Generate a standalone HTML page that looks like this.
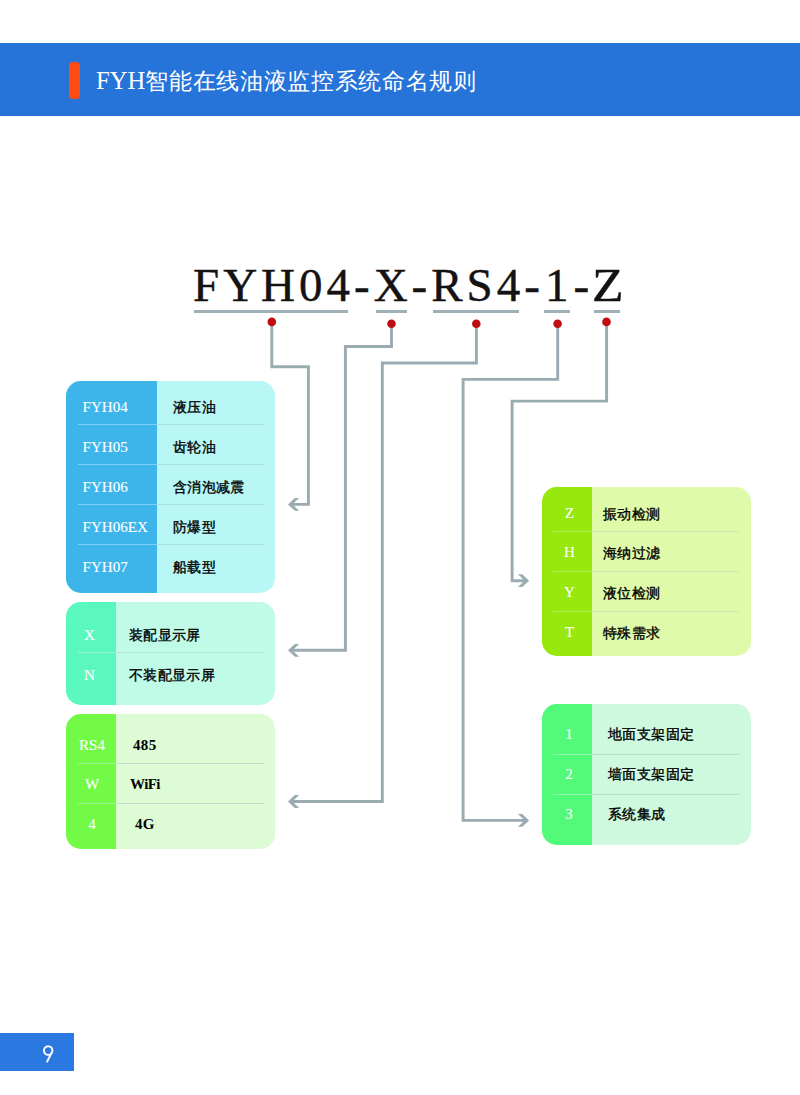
<!DOCTYPE html>
<html><head><meta charset="utf-8">
<style>
html,body{margin:0;padding:0;background:#fff;}
body{width:800px;height:1095px;position:relative;overflow:hidden;font-family:"Liberation Sans",sans-serif;}
.abs{position:absolute;}
#band{left:0;top:43px;width:800px;height:72.5px;background:#2673d9;}
#obar{left:69px;top:62px;width:11px;height:37px;border-radius:4px;background:#fd4b12;}
#title{left:96px;top:66px;color:#fff;font-size:23px;letter-spacing:0.68px;line-height:30px;white-space:nowrap;}
#title .s{font-family:"Liberation Serif",serif;font-size:24.6px;letter-spacing:0;}
#code{left:193px;top:255px;font-family:"Liberation Serif",serif;font-size:47px;line-height:60px;color:#141213;-webkit-text-stroke:0.45px #141213;letter-spacing:4px;white-space:nowrap;}
.ul{background:#9fb0b6;height:3px;top:310px;}
.box{position:absolute;border-radius:15px;overflow:hidden;}
.box .lc{position:absolute;left:0;top:0;bottom:0;}
.row{position:absolute;left:0;right:0;height:40px;}
.lab{position:absolute;top:0;height:40px;line-height:40px;color:#fff;font-family:"Liberation Serif",serif;font-size:15px;text-align:center;white-space:nowrap;-webkit-text-stroke:0.12px #fff;}
.lab.b1{left:16.5px;text-align:left;font-size:15.1px;}
.txt{position:absolute;top:0;height:40px;line-height:40px;color:#000;font-size:14px;-webkit-text-stroke:0.35px #000;white-space:nowrap;letter-spacing:0.35px;}
.txt.en{font-family:"Liberation Serif",serif;font-weight:700;font-size:15px;-webkit-text-stroke:0;}
.sep{position:absolute;height:1px;}
#pg{left:0;top:1033px;width:74px;height:38px;background:#2a78e0;}
#pgn{left:40px;top:1036px;color:#fff;font-size:23px;line-height:32px;}
</style></head><body>
<div class="abs" id="band"></div>
<div class="abs" id="obar"></div>
<div class="abs" id="title"><span class="s">FYH</span>智能在线油液监控系统命名规则</div>

<div class="abs" id="code">FYH04-X-RS4-<span style="margin-left:1px">1</span><span style="margin-left:1px">-</span><span style="display:inline-block;transform:scaleX(1.1);transform-origin:0 0;margin-left:-1.5px">Z</span></div>
<div class="abs ul" style="left:194px;width:154px"></div>
<div class="abs ul" style="left:376px;width:31px"></div>
<div class="abs ul" style="left:433px;width:86px"></div>
<div class="abs ul" style="left:544px;width:26px"></div>
<div class="abs ul" style="left:594px;width:26px"></div>

<svg class="abs" style="left:0;top:0" width="800" height="1095" viewBox="0 0 800 1095">
<g fill="none" stroke="#9aabb1" stroke-width="2.9" stroke-linejoin="miter" stroke-linecap="butt">
<polyline points="271.8,322 271.8,366.7 308.4,366.7 308.4,504.4 293,504.4"/>
<polyline points="391.5,324 391.5,346.5 345.4,346.5 345.4,650.3 293,650.3"/>
<polyline points="476.4,324 476.4,363 382.3,363 382.3,801.5 293,801.5"/>
<polyline points="557.7,324 557.7,379.4 463.1,379.4 463.1,820.4 524,820.4"/>
<polyline points="606.6,322 606.6,401.1 512.1,401.1 512.1,580.7 524,580.7"/>
</g>
<g fill="#9aabb1">
<polygon points="288.00,504.40 294.80,498.00 299.20,498.00 293.89,503.00 293.89,505.80 299.20,510.80 294.80,510.80"/>
<polygon points="288.00,650.30 294.80,643.90 299.20,643.90 293.89,648.90 293.89,651.70 299.20,656.70 294.80,656.70"/>
<polygon points="288.00,801.50 294.80,795.10 299.20,795.10 293.89,800.10 293.89,802.90 299.20,807.90 294.80,807.90"/>
<polygon points="529.10,820.40 522.30,814.00 517.90,814.00 523.21,819.00 523.21,821.80 517.90,826.80 522.30,826.80"/>
<polygon points="529.10,580.70 522.30,574.30 517.90,574.30 523.21,579.30 523.21,582.10 517.90,587.10 522.30,587.10"/>
</g>
<g fill="#c00d12">
<circle cx="271.8" cy="321.9" r="4.3"/>
<circle cx="391.5" cy="323.8" r="4.3"/>
<circle cx="476.3" cy="323.8" r="4.3"/>
<circle cx="557.6" cy="323.8" r="4.3"/>
<circle cx="606.5" cy="321.9" r="4.3"/>
</g>
</svg>

<!-- Box 1 -->
<div class="box" style="left:66px;top:381px;width:209px;height:212px;background:#b9f7f6">
  <div class="lc" style="width:91px;background:#3db5ea"></div>
  <div class="sep" style="left:12px;width:186px;top:43px;background:linear-gradient(90deg,#80cff2 79px,#ace0e0 79px)"></div>
  <div class="sep" style="left:12px;width:186px;top:83px;background:linear-gradient(90deg,#80cff2 79px,#ace0e0 79px)"></div>
  <div class="sep" style="left:12px;width:186px;top:123px;background:linear-gradient(90deg,#80cff2 79px,#ace0e0 79px)"></div>
  <div class="sep" style="left:12px;width:186px;top:163px;background:linear-gradient(90deg,#80cff2 79px,#ace0e0 79px)"></div>
  <div class="row" style="top:6px"><div class="lab b1">FYH04</div><div class="txt" style="left:107px">液压油</div></div>
  <div class="row" style="top:46px"><div class="lab b1">FYH05</div><div class="txt" style="left:107px">齿轮油</div></div>
  <div class="row" style="top:86px"><div class="lab b1">FYH06</div><div class="txt" style="left:107px">含消泡减震</div></div>
  <div class="row" style="top:126px"><div class="lab b1">FYH06EX</div><div class="txt" style="left:107px">防爆型</div></div>
  <div class="row" style="top:166px"><div class="lab b1">FYH07</div><div class="txt" style="left:107px">船载型</div></div>
</div>

<!-- Box 2 -->
<div class="box" style="left:66px;top:602px;width:209px;height:103px;background:#c0fbe8">
  <div class="lc" style="width:50px;background:#5af8bf"></div>
  <div class="sep" style="left:12px;width:186px;top:50px;background:linear-gradient(90deg,#9af8d8 38px,#b4e4d6 38px)"></div>
  <div class="row" style="top:13px"><div class="lab" style="left:1px;width:45px">X</div><div class="txt" style="left:63px">装配显示屏</div></div>
  <div class="row" style="top:53px"><div class="lab" style="left:1px;width:45px">N</div><div class="txt" style="left:63px">不装配显示屏</div></div>
</div>

<!-- Box 3 -->
<div class="box" style="left:66px;top:714px;width:209px;height:135px;background:#ddfbd5">
  <div class="lc" style="width:50px;background:#72fa46"></div>
  <div class="sep" style="left:12px;width:186px;top:49px;background:linear-gradient(90deg,#a2f490 38px,#c2dec8 38px)"></div>
  <div class="sep" style="left:12px;width:186px;top:89px;background:linear-gradient(90deg,#a2f490 38px,#c2dec8 38px)"></div>
  <div class="row" style="top:11px"><div class="lab" style="left:1px;width:50px">RS4</div><div class="txt en" style="left:67px">485</div></div>
  <div class="row" style="top:50px"><div class="lab" style="left:1px;width:50px">W</div><div class="txt en" style="left:64px;letter-spacing:-0.6px">WiFi</div></div>
  <div class="row" style="top:90px"><div class="lab" style="left:1px;width:50px">4</div><div class="txt en" style="left:69px">4G</div></div>
</div>

<!-- Box 4 -->
<div class="box" style="left:542px;top:487px;width:209px;height:169px;background:#dffaa8">
  <div class="lc" style="width:50px;background:#96e80e"></div>
  <div class="sep" style="left:11px;width:186px;top:44px;background:linear-gradient(90deg,#b2ee58 39px,#cfe2b2 39px)"></div>
  <div class="sep" style="left:11px;width:186px;top:84px;background:linear-gradient(90deg,#b2ee58 39px,#cfe2b2 39px)"></div>
  <div class="sep" style="left:11px;width:186px;top:124px;background:linear-gradient(90deg,#b2ee58 39px,#cfe2b2 39px)"></div>
  <div class="row" style="top:7px"><div class="lab" style="left:0;width:55px;top:-1px">Z</div><div class="txt" style="left:61px">振动检测</div></div>
  <div class="row" style="top:46px"><div class="lab" style="left:0;width:55px;top:-1px">H</div><div class="txt" style="left:61px">海纳过滤</div></div>
  <div class="row" style="top:86px"><div class="lab" style="left:0;width:55px;top:-1px">Y</div><div class="txt" style="left:61px">液位检测</div></div>
  <div class="row" style="top:126px"><div class="lab" style="left:0;width:55px;top:-1px">T</div><div class="txt" style="left:61px">特殊需求</div></div>
</div>

<!-- Box 5 -->
<div class="box" style="left:542px;top:704px;width:209px;height:141px;background:#cff9df">
  <div class="lc" style="width:50px;background:#52fa7a"></div>
  <div class="sep" style="left:11px;width:186px;top:50px;background:linear-gradient(90deg,#98f4b0 39px,#bddecb 39px)"></div>
  <div class="sep" style="left:11px;width:186px;top:90px;background:linear-gradient(90deg,#98f4b0 39px,#bddecb 39px)"></div>
  <div class="row" style="top:10px"><div class="lab" style="left:0;width:54px">1</div><div class="txt" style="left:66px;letter-spacing:0.45px">地面支架固定</div></div>
  <div class="row" style="top:50px"><div class="lab" style="left:0;width:54px">2</div><div class="txt" style="left:66px;letter-spacing:0.45px">墙面支架固定</div></div>
  <div class="row" style="top:90px"><div class="lab" style="left:0;width:54px">3</div><div class="txt" style="left:66px;letter-spacing:0.45px">系统集成</div></div>
</div>

<div class="abs" id="pg"></div>
<svg class="abs" style="left:0;top:1033px" width="74" height="38" viewBox="0 1033 74 38"><g fill="none" stroke="#fff" stroke-width="1.95"><ellipse cx="48.2" cy="1050.5" rx="4.2" ry="4.35"/><line x1="52.2" y1="1051.6" x2="46.8" y2="1062.2"/></g></svg>
</body></html>
